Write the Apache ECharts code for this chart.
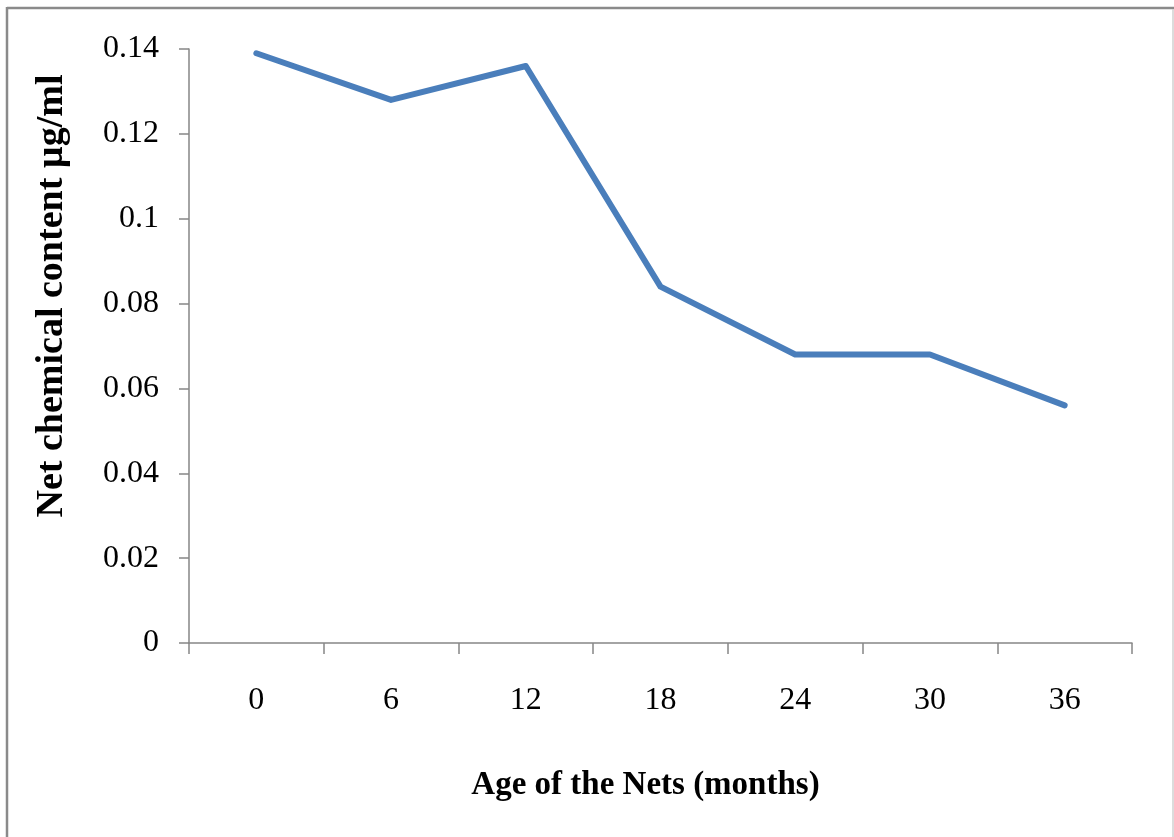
<!DOCTYPE html>
<html>
<head>
<meta charset="utf-8">
<script src="https://cdn.jsdelivr.net/npm/echarts@6/dist/echarts.min.js"></script>
<style>
html,body{margin:0;padding:0;background:#fff;}
#chart{width:1174px;height:837px;}
</style>
</head>
<body>
<div id="chart"></div>
<script>
var categories = ['0', '6', '12', '18', '24', '30', '36'];
var netContent = [0.139, 0.128, 0.136, 0.084, 0.068, 0.068, 0.056];
var yTicks = [0, 0.02, 0.04, 0.06, 0.08, 0.1, 0.12, 0.14];

var chart = echarts.init(document.getElementById('chart'), null, {renderer: 'canvas'});
var axisColor = '#868686';
var font = '"Liberation Serif", "Times New Roman", serif';
chart.setOption({
  backgroundColor: '#ffffff',
  animation: false,
  grid: {left: 189, right: 42, top: 49, bottom: 194},
  xAxis: {
    type: 'category',
    data: categories,
    boundaryGap: true,
    name: 'Age of the Nets (months)',
    nameLocation: 'middle',
    nameGap: 126,
    nameTextStyle: {fontFamily: font, fontSize: 33, fontWeight: 'bold', color: '#000', padding: [0, 30, 0, 0]},
    axisLine: {lineStyle: {color: axisColor, width: 1.5}},
    axisTick: {show: true, length: 11, lineStyle: {color: axisColor, width: 1.5}},
    axisLabel: {fontFamily: font, fontSize: 32, color: '#000', margin: 42},
    splitLine: {show: false}
  },
  yAxis: {
    type: 'value',
    min: 0,
    max: 0.14,
    interval: 0.02,
    name: 'Net chemical content µg/ml',
    nameLocation: 'middle',
    nameGap: 118,
    nameRotate: 90,
    nameTextStyle: {fontFamily: font, fontSize: 38, fontWeight: 'bold', color: '#000', padding: [0, 0, 0, 100]},
    axisLine: {show: true, lineStyle: {color: axisColor, width: 1.5}},
    axisTick: {show: true, length: 10, lineStyle: {color: axisColor, width: 1.5}},
    axisLabel: {
      fontFamily: font, fontSize: 32, color: '#000', margin: 30,
      formatter: function (v) {
        for (var i = 0; i < yTicks.length; i++) {
          if (Math.abs(yTicks[i] - v) < 1e-9) return String(yTicks[i]);
        }
        return '';
      }
    },
    splitLine: {show: false}
  },
  series: [{
    type: 'line',
    data: netContent,
    showSymbol: false,
    symbol: 'none',
    lineStyle: {color: '#4a7ebb', width: 6, cap: 'round', join: 'round'},
    itemStyle: {color: '#4a7ebb'}
  }],
  graphic: [
    {type: 'line', shape: {x1: 7, y1: 8, x2: 1174, y2: 8}, style: {stroke: '#8a8a8a', lineWidth: 2.5}},
    {type: 'line', shape: {x1: 7, y1: 7, x2: 7, y2: 837}, style: {stroke: '#8a8a8a', lineWidth: 2.5}},
    {type: 'line', shape: {x1: 1173, y1: 9, x2: 1173, y2: 837}, style: {stroke: '#d0d0d0', lineWidth: 1.5}}
  ]
});
</script>
</body>
</html>
